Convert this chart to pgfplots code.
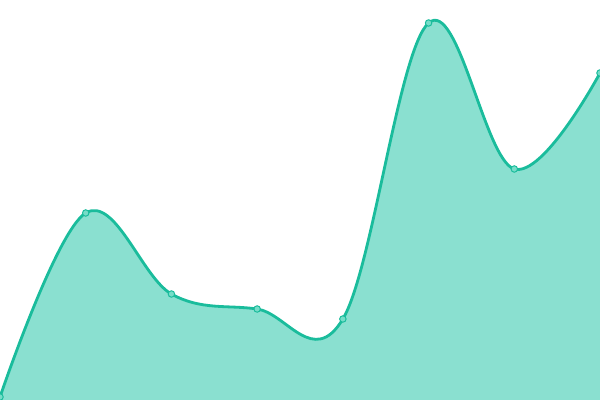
\documentclass[border=0pt]{standalone}
\usepackage{pgfplots}
\pgfplotsset{compat=1.18}
\definecolor{teal1}{HTML}{1ABC9C}
\definecolor{tealfill}{HTML}{8AE0D0}
\definecolor{tealmark}{HTML}{76DDC8}
\begin{document}
\begin{tikzpicture}
\begin{axis}[
    width=15cm, height=10cm,
    scale only axis,
    hide axis,
    xmin=0, xmax=7,
    ymin=0, ymax=400,
    clip=true,
]
\addplot[draw=none, fill=tealfill, smooth, tension=0.62, forget plot]
    coordinates {(0,3)(1,187)(2,106)(3,91)(4,81)(5,377)(6,231)(7,327)} \closedcycle;
\addplot[teal1, line width=2pt, smooth, tension=0.62,
    mark=*, mark size=2.3pt,
    mark options={fill=tealmark, draw=teal1, line width=0.7pt}]
    coordinates {(0,3)(1,187)(2,106)(3,91)(4,81)(5,377)(6,231)(7,327)};
\end{axis}
\pgfresetboundingbox
\useasboundingbox (current axis.south west) rectangle (current axis.north east);
\end{tikzpicture}
\end{document}
